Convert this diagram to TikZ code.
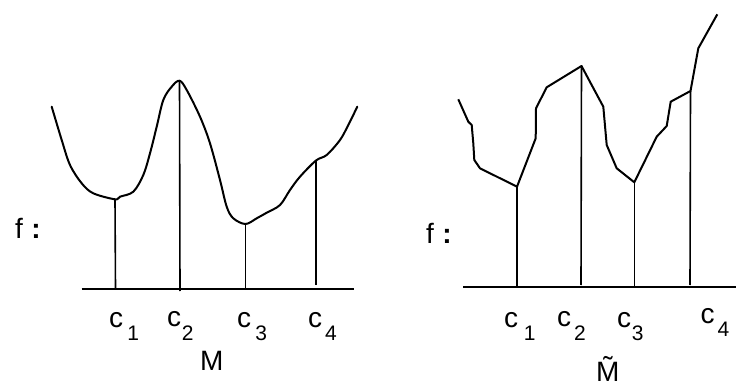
\documentclass[tikz,border=0pt]{standalone}
\usepackage{fontspec}
\setmainfont{Liberation Sans}
\usetikzlibrary{positioning}
\tikzset{
  curve/.style={line width=2pt,line join=round,line cap=round},
  axis/.style={line width=1.9pt},
  drop/.style={line width=1.6pt},
  lbl/.style={inner sep=0pt,anchor=base west,font=\fontsize{28}{30}\selectfont}
}
\newcommand{\subsz}{\fontsize{21}{22}\selectfont}
\newcommand{\cidx}[2][0.15em]{c\hspace{#1}\raisebox{-0.48em}{\subsz #2}}

\begin{document}
\begin{tikzpicture}[x=1pt,y=-1pt]
\useasboundingbox (0,0) rectangle (736,390);
% left picture: smooth f on M
\coordinate (m1) at (115,199.3);
\coordinate (m2) at (179.5,80.7);
\coordinate (m3) at (245.5,224);
\coordinate (m4) at (316,160.5);
\coordinate (mb1) at (115.5,288.7);
\coordinate (mb2) at (180,291);
\coordinate (mb3) at (245.5,288.7);
\coordinate (mb4) at (316,285);
\coordinate (ml) at (81.7,288.7);
\coordinate (mr) at (354,288.7);
\draw[curve] plot[smooth,tension=0.55] coordinates {(51.7,106.7) (61.7,140) (70,165) (81.7,183.3) (93.3,193.3) (m1)
  (120,196.7) (133.3,191.7) (143.3,175) (150,153.3) (156.7,126.7) (163.3,100) (171.7,86.7) (m2)
  (186.7,90) (200,116.7) (210,143.3) (220,180) (226.7,206.7) (233.3,218.3) (m3)
  (256.7,218.3) (266.7,212.7) (280,205) (290,190) (300,176.7) (m4)
  (326.7,155) (340,140) (348.3,125) (357.3,106.7)};
\draw[axis] (ml) -- (mr);
\draw[drop] (m1) -- (mb1);
\draw[drop] (m2) -- (mb2);
\draw[drop] (m3) -- (mb3);
\draw[drop] (m4) -- (mb4);
\node[lbl] (fm) at (15,238) {f\hspace{0.3em}\textbf{:}};
\node[lbl] (mc1) at (109,327) {\cidx{1}};
\node[lbl] (mc2) at (167,326.7) {\cidx[0.02em]{2}};
\node[lbl] (mc3) at (237,327) {\cidx{3}};
\node[lbl] (mc4) at (308,327) {\cidx[0.1em]{4}};
\node[lbl] (mname) at (200,370.5) {M};
% right picture: piecewise linear f on the cover
\coordinate (t1) at (517,186.7);
\coordinate (t2) at (581.5,66);
\coordinate (t3) at (634.3,182.3);
\coordinate (t4) at (690.5,91);
\coordinate (tb1) at (517,287.3);
\coordinate (tb2) at (581,285);
\coordinate (tb3) at (634.3,287.3);
\coordinate (tb4) at (690,285);
\coordinate (tl) at (463.3,287.3);
\coordinate (tr) at (736,287.3);
\draw[curve,line cap=butt] (458.3,99.3) -- (468.3,121.7) -- (471.7,125) -- (473.3,143.3) -- (474.3,160) -- (480,168.3) -- (t1)
  -- (535.7,138.3) -- (536,108.3) -- (546.7,87.3) -- (t2)
  -- (603.3,106.7) -- (606.7,145) -- (616.7,168.3) -- (t3)
  -- (656.7,136.7) -- (666.7,126) -- (670.7,101.7) -- (t4)
  -- (698.3,48.3) -- (717.3,14.3);
\draw[axis] (tl) -- (tr);
\draw[drop] (t1) -- (tb1);
\draw[drop] (t2) -- (tb2);
\draw[drop] (t3) -- (tb3);
\draw[drop] (t4) -- (tb4);
\node[lbl] (ft) at (426,243.3) {f\hspace{0.3em}\textbf{:}};
\node[lbl] (tc1) at (504,327.3) {\cidx[0.2em]{1}};
\node[lbl] (tc2) at (557,326.7) {\cidx[0.1em]{2}};
\node[lbl] (tc3) at (617,327.3) {\cidx[0.02em]{3}};
\node[lbl] (tc4) at (700.5,323.3) {\cidx[0.1em]{4}};
\node[lbl] (tname) at (596,381.5) {\~{M}};
\end{tikzpicture}
\end{document}
